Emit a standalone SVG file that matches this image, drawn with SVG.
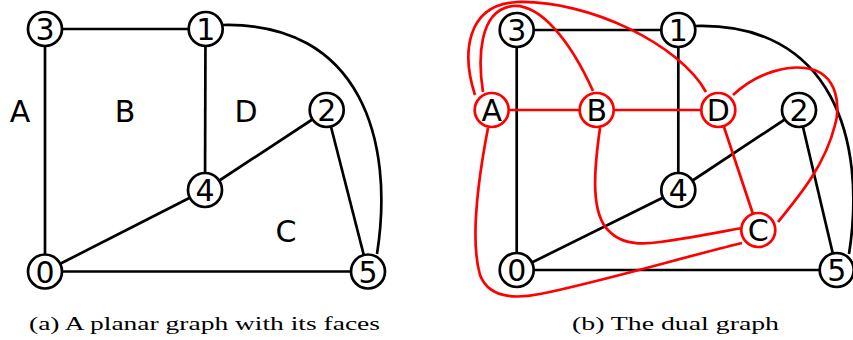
<svg xmlns="http://www.w3.org/2000/svg" width="853" height="340" viewBox="0 0 853 340">
<style>
.e{fill:none;stroke:#000;stroke-width:2.7}
.r{fill:none;stroke:#ff0000;stroke-width:2.7}
.n circle{fill:#fff;stroke:#000;stroke-width:2.7}
.d circle{fill:#fff;stroke:#ff0000;stroke-width:2.7}
.n text,.d text,.f{font-family:"DejaVu Sans",sans-serif;font-size:30px;text-anchor:middle;fill:#000}
.cap{font-family:"Liberation Serif",serif;font-size:19px;fill:#000}
</style>
<rect width="853" height="340" fill="#fff"/>
<g id="edges-a">
<line class="e" x1="45" y1="29" x2="205.7" y2="29"/>
<line class="e" x1="45" y1="29" x2="45" y2="271.5"/>
<line class="e" x1="205.5" y1="29" x2="205" y2="190"/>
<line class="e" x1="45" y1="271.5" x2="205" y2="190"/>
<line class="e" x1="205" y1="190" x2="326.7" y2="110"/>
<line class="e" x1="326.7" y1="110" x2="368" y2="271.5"/>
<line class="e" x1="45" y1="271.5" x2="368" y2="271.5"/>
<path class="e" d="M223,25 C360,22 395,140 377,254"/>
</g>
<g id="faces-a">
<text class="f" x="20" y="122">A</text>
<text class="f" x="125" y="122">B</text>
<text class="f" x="246" y="122">D</text>
<text class="f" x="286" y="242">C</text>
</g>
<g id="a3" class="n"><circle cx="45" cy="29" r="17"/><text x="45" y="40">3</text></g>
<g id="a1" class="n"><circle cx="205.7" cy="29" r="17"/><text x="205.7" y="40">1</text></g>
<g id="a2" class="n"><circle cx="326.7" cy="110" r="17"/><text x="326.7" y="121">2</text></g>
<g id="a4" class="n"><circle cx="205" cy="190" r="17"/><text x="205" y="201">4</text></g>
<g id="a0" class="n"><circle cx="45" cy="271.5" r="17"/><text x="45" y="282.5">0</text></g>
<g id="a5" class="n"><circle cx="368" cy="271.5" r="17"/><text x="368" y="282.5">5</text></g>

<g id="edges-b">
<line class="e" x1="516.7" y1="30" x2="678.3" y2="30"/>
<line class="e" x1="516.7" y1="30" x2="516.7" y2="270"/>
<line class="e" x1="678.3" y1="30" x2="678.3" y2="190"/>
<line class="e" x1="516.7" y1="270" x2="678.3" y2="190"/>
<line class="e" x1="678.3" y1="190" x2="799" y2="110"/>
<line class="e" x1="799" y1="110" x2="836.7" y2="270"/>
<line class="e" x1="516.7" y1="270" x2="836.7" y2="270"/>
<path class="e" d="M695,26 C832,22 867,140 849,254"/>
</g>
<g id="dual-edges">
<line class="r" x1="491.7" y1="110" x2="596.7" y2="110"/>
<line class="r" x1="596.7" y1="110" x2="718.3" y2="110"/>
<line class="r" x1="718.3" y1="110" x2="758.3" y2="230"/>
<path class="r" d="M483,92 C478,60 478,10 513,6 C540,4 570,40 593,91"/>
<path class="r" d="M475,95 C462,55 465,5 517,2 C590,0 680,45 706,92"/>
<path class="r" d="M733,95 C760,70 790,66 805,68 C840,72 840,110 835,125 C825,165 800,195 778,222"/>
<path class="r" d="M600,128 C594,170 590,215 610,232 C620,242 635,246 660,242 C690,238 720,232 742,228"/>
<path class="r" d="M488,128 C478,180 470,240 480,275 C488,296 510,300 540,294 C600,282 680,258 742,243"/>
</g>
<g id="b3" class="n"><circle cx="516.7" cy="30" r="17"/><text x="516.7" y="41">3</text></g>
<g id="b1" class="n"><circle cx="678.3" cy="30" r="17"/><text x="678.3" y="41">1</text></g>
<g id="b2" class="n"><circle cx="799" cy="110" r="17"/><text x="799" y="121">2</text></g>
<g id="b4" class="n"><circle cx="678.3" cy="190" r="17"/><text x="678.3" y="201">4</text></g>
<g id="b0" class="n"><circle cx="516.7" cy="270" r="17"/><text x="516.7" y="281">0</text></g>
<g id="b5" class="n"><circle cx="836.7" cy="270" r="17"/><text x="836.7" y="281">5</text></g>
<g id="dA" class="d"><circle cx="491.7" cy="110" r="17"/><text x="491.7" y="121">A</text></g>
<g id="dB" class="d"><circle cx="596.7" cy="110" r="17"/><text x="596.7" y="121">B</text></g>
<g id="dD" class="d"><circle cx="718.3" cy="110" r="17"/><text x="718.3" y="121">D</text></g>
<g id="dC" class="d"><circle cx="758.3" cy="230" r="17"/><text x="758.3" y="241">C</text></g>

<text class="cap" x="29" y="330" textLength="351" lengthAdjust="spacingAndGlyphs">(a) A planar graph with its faces</text>
<text class="cap" x="572" y="330" textLength="207" lengthAdjust="spacingAndGlyphs">(b) The dual graph</text>
</svg>
